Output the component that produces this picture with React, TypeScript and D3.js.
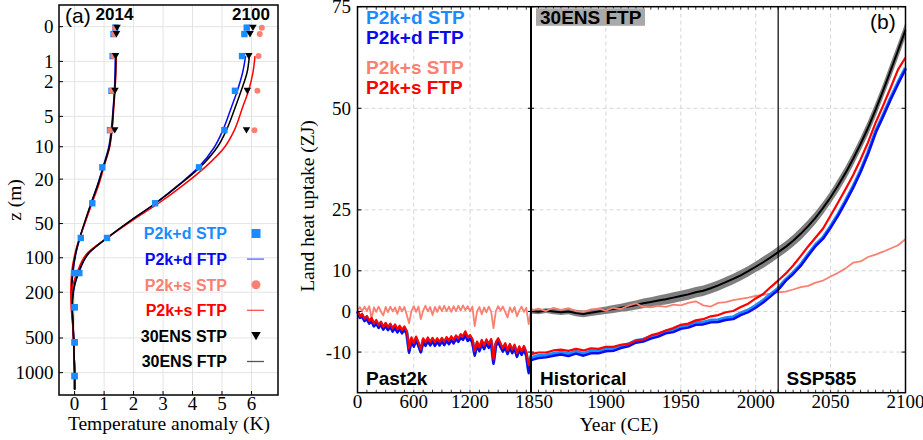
import React from "react";
import * as d3 from "d3";

const W = 923;
const H = 440;

// ---------- Panel (a): subsurface temperature anomaly profiles ----------
const stpDepths = [0.02, 0.16, 0.8, 2.6, 6.9, 15.6, 33, 67, 136, 270, 545, 1070];
const p2kdStp2014 = [1.38, 1.32, 1.29, 1.25, 1.2, 0.94, 0.6, 0.21, -0.02, 0, 0, 0];
const p2kdStp2100 = [5.84, 5.76, 5.68, 5.44, 5.08, 4.22, 2.73, 1.1, 0.16, 0, 0, 0];

const shallowDepths = [0.02, 0.16, 0.8, 2.6, 6.9];
const p2ksStp2014 = [1.37, 1.34, 1.31, 1.26, 1.21];
const p2ksStp2100 = [6.35, 6.28, 6.24, 6.2, 6.1];
const ensStp2014 = [1.44, 1.42, 1.39, 1.37, 1.36];
const ensStp2100 = [6.05, 5.95, 5.91, 5.86, 5.83];

const ftpDepths = [0.8, 1.5, 2.6, 4, 6.9, 10, 15.6, 22, 33, 47, 67, 90, 136, 200, 270, 400, 545, 800, 1070, 1400];
const p2kdFtp2014 = [1.38, 1.37, 1.35, 1.31, 1.24, 1.16, 0.96, 0.79, 0.56, 0.37, 0.18, 0.05, -0.06, -0.1, -0.09, -0.05, -0.03, -0.01, 0, 0];
const p2ksFtp2014 = [1.41, 1.4, 1.37, 1.33, 1.27, 1.19, 0.99, 0.83, 0.59, 0.38, 0.17, 0.02, -0.1, -0.13, -0.11, -0.06, -0.03, -0.01, 0, 0];
const ensFtp2014 = [1.4, 1.39, 1.36, 1.32, 1.26, 1.18, 0.97, 0.8, 0.56, 0.36, 0.17, 0.04, -0.07, -0.1, -0.09, -0.05, -0.03, -0.01, 0, 0];
const p2kdFtp2100 = [5.8, 5.7, 5.52, 5.32, 5.03, 4.75, 4.2, 3.58, 2.74, 1.9, 1.1, 0.5, 0.14, -0.04, -0.07, -0.05, -0.03, -0.01, 0, 0];
const p2ksFtp2100 = [6.12, 6.05, 5.9, 5.7, 5.42, 5.1, 4.42, 3.75, 2.85, 1.95, 1.1, 0.45, 0.08, -0.1, -0.11, -0.06, -0.03, -0.01, 0, 0];
const ensFtp2100 = [5.93, 5.85, 5.65, 5.45, 5.15, 4.85, 4.25, 3.6, 2.75, 1.9, 1.1, 0.5, 0.12, -0.05, -0.08, -0.05, -0.03, -0.01, 0, 0];

const tempTicks = [0, 1, 2, 3, 4, 5, 6];
const depthTicks = [0, 1, 2, 5, 10, 20, 50, 100, 200, 500, 1000];

// ---------- Panel (b): land heat uptake (ZJ) ----------
// Past2k: 0..1825 CE every 25 years
const pastStep = 25;
const p2ksStpPast = [0.2, 1.1, 0.0, 1.2, 0.1, 1.3, -1.8, 1.0, -0.1, 1.2, 0.0, -1.0, 1.1, -0.2, 1.2, 0.0, 1.0, -0.6, 1.2, 0.0, 1.1, -0.8, -2.9, 0.1, 1.3, -0.1, 1.2, -1.9, 0.2, 1.4, 0.0, 1.1, -0.9, 1.1, -0.1, 1.3, 0.1, 1.4, 0.0, 1.2, -0.1, 1.3, 0.1, 1.4, 0.2, 1.5, 0.3, 1.3, 0.0, 1.2, -3.6, 0.0, 1.1, -0.7, 1.0, -0.2, 1.2, 0.0, -4.1, 0.1, 1.3, 0.2, 1.2, -0.1, -1.5, 1.0, -0.2, 1.1, -1.2, 0.2, 1.2, -0.1, 0.9, -3.1];
const p2ksFtpPast = [0, -1.2, -0.6, -1.8, -1.1, -2.3, -1.6, -3.0, -2.1, -3.4, -2.5, -3.8, -2.8, -3.9, -3.0, -4.2, -3.2, -4.4, -3.5, -4.6, -3.7, -4.8, -9.0, -6.4, -7.8, -6.2, -7.6, -9.4, -6.6, -7.6, -6.4, -7.5, -6.5, -7.6, -6.6, -7.5, -6.5, -7.4, -6.3, -7.2, -6.1, -7.0, -5.9, -6.6, -5.6, -6.1, -4.9, -6.4, -5.8, -6.8, -9.8, -7.4, -8.9, -7.0, -8.4, -6.9, -8.1, -6.8, -11.8, -7.6, -6.6, -7.9, -9.0, -7.8, -9.6, -8.0, -9.4, -8.2, -10.3, -8.6, -9.8, -8.5, -10.0, -13.2];
const p2kdFtpPast = [0, -1.6, -1.3, -2.4, -1.9, -3.0, -2.4, -3.7, -2.9, -4.1, -3.2, -4.5, -3.6, -4.6, -3.8, -5.0, -4.0, -5.2, -4.3, -5.4, -4.5, -5.6, -10.2, -7.3, -8.7, -7.1, -8.5, -10.1, -7.5, -8.5, -7.3, -8.4, -7.4, -8.5, -7.5, -8.4, -7.4, -8.3, -7.2, -8.1, -7.0, -7.9, -6.8, -7.5, -6.5, -7.0, -5.8, -7.3, -6.7, -7.7, -10.9, -8.3, -9.8, -7.9, -9.3, -7.8, -9.0, -7.7, -12.9, -8.5, -7.5, -8.8, -9.9, -8.7, -10.5, -8.9, -10.3, -9.1, -11.2, -9.5, -10.7, -9.4, -10.9, -15.2];
const p2kdStpPast = [0, -1.4, -1.0, -2.1, -1.5, -2.7, -2.0, -3.4, -2.5, -3.8, -2.9, -4.2, -3.2, -4.3, -3.4, -4.6, -3.6, -4.8, -3.9, -5.0, -4.1, -5.2, -9.6, -6.9, -8.2, -6.7, -8.1, -9.8, -7.1, -8.1, -6.9, -8.0, -7.0, -8.1, -7.1, -8.0, -7.0, -7.9, -6.8, -7.7, -6.6, -7.5, -6.4, -7.1, -6.1, -6.6, -5.4, -6.9, -6.3, -7.3, -10.4, -7.9, -9.4, -7.5, -8.9, -7.4, -8.6, -7.3, -12.4, -8.1, -7.1, -8.4, -9.5, -8.3, -10.1, -8.5, -9.9, -8.7, -10.8, -9.1, -10.3, -9.0, -10.5, -14.6];

// Historical + SSP585: 1850..2100 CE every 5 years
const modernStart = 1850;
const modernStep = 5;
const p2ksStpModern = [0.2, 0.7, 0.1, 0.9, 0.4, 0.8, 0.1, -0.1, 0.5, 0.7, 0.2, 0.9, 0.6, 1.4, 2.0, 1.1, 1.0, 1.4, 1.1, 1.7, 1.5, 2.1, 2.5, 1.5, 1.2, 2.1, 2.3, 2.8, 3.1, 3.4, 3.8, 4.1, 4.4, 4.7, 4.9, 5.4, 6.0, 6.3, 7.1, 7.6, 8.6, 9.5, 10.6, 12.0, 12.3, 13.4, 14.0, 14.7, 15.5, 16.3, 17.8];
const p2ksFtpModern = [-10.5, -10.1, -10.1, -9.6, -9.4, -9.7, -9.2, -9.6, -9.1, -9.2, -8.7, -8.7, -8.2, -8.0, -7.2, -6.9, -5.9, -5.4, -4.7, -4.1, -3.3, -3.0, -2.2, -1.9, -1.2, -0.9, -0.2, 0.1, 1.1, 1.9, 3.2, 4.3, 6.0, 7.6, 9.3, 11.3, 13.6, 16.0, 18.2, 20.4, 23.6, 26.8, 30.1, 33.5, 37.4, 41.6, 46.4, 50.6, 55.0, 59.5, 62.5];
const p2kdFtpModern = [-12.0, -11.5, -11.3, -10.9, -10.6, -11.0, -10.4, -10.9, -10.3, -10.3, -9.8, -9.7, -9.0, -8.6, -7.7, -7.4, -6.7, -6.2, -5.4, -5.1, -4.3, -4.0, -3.3, -3.2, -2.7, -2.6, -2.1, -1.9, -0.9, -0.2, 0.9, 2.2, 3.7, 5.3, 7.5, 9.2, 11.2, 13.7, 16.1, 17.9, 20.6, 23.6, 26.9, 30.4, 34.3, 38.8, 43.9, 47.9, 52.1, 56.0, 59.6];
const p2kdStpModern = [-11.4, -10.9, -10.8, -10.4, -10.1, -10.5, -9.9, -10.4, -9.8, -9.8, -9.3, -9.2, -8.5, -8.1, -7.2, -6.9, -6.2, -5.7, -4.9, -4.6, -3.8, -3.5, -2.8, -2.7, -2.2, -2.1, -1.6, -1.4, -0.4, 0.3, 1.4, 2.7, 4.2, 5.7, 7.8, 9.5, 11.5, 14.0, 16.4, 18.2, 20.9, 23.9, 27.2, 30.7, 34.6, 39.1, 44.2, 48.2, 52.4, 56.3, 59.9];
const ensFtpModern = [0.1, -0.1, 0.2, 0.0, -0.2, 0.0, -0.4, -0.6, -0.3, 0.0, 0.3, 0.6, 0.9, 1.2, 1.6, 2.0, 2.3, 2.7, 3.0, 3.4, 3.8, 4.2, 4.7, 5.1, 5.7, 6.4, 7.2, 8.0, 8.9, 9.9, 11.0, 12.1, 13.3, 14.6, 15.9, 17.4, 19.1, 21.0, 23.1, 25.5, 28.1, 31.0, 34.1, 37.5, 41.2, 45.2, 49.6, 54.3, 59.2, 64.2, 69.3];
const ensSpreadModern = [0.6, 0.6, 0.6, 0.7, 0.7, 0.7, 0.8, 0.8, 0.8, 0.9, 0.9, 1.0, 1.0, 1.1, 1.1, 1.2, 1.2, 1.2, 1.3, 1.3, 1.3, 1.3, 1.3, 1.3, 1.3, 1.3, 1.3, 1.3, 1.3, 1.3, 1.3, 1.4, 1.4, 1.4, 1.4, 1.4, 1.5, 1.5, 1.5, 1.5, 1.5, 1.6, 1.6, 1.6, 1.6, 1.7, 1.7, 1.7, 1.8, 1.8, 1.8];

const yearTicks = [0, 600, 1200, 1850, 1900, 1950, 2000, 2050, 2100];
const heatTicks = [-10, 0, 10, 25, 50, 75];
const periodBreaks = [1850, 2015];

const C = {
  p2kdStp: "#1a8cff",
  p2kdFtp: "#0a0af0",
  p2ksStp: "#fa8072",
  p2ksFtp: "#ff0000",
  ens: "#000000",
  band: "#7e7e7e",
};

const SANS = "'Liberation Sans', Arial, Helvetica, sans-serif";
const SERIF = "'Liberation Serif', 'Times New Roman', Times, serif";

type Pt = { x: number; v: number };
function pastPts(vals: number[]): Pt[] {
  return vals.map((v, i) => ({ x: i * pastStep, v }));
}
function modernPts(vals: number[]): Pt[] {
  return vals.map((v, i) => ({ x: modernStart + i * modernStep, v }));
}

export default function App() {
  // ---- panel (a) scales ----
  const aL = 59, aR = 278, aT = 5, aB = 395;
  const xA = d3.scaleLinear().domain([-0.53, 6.9]).range([aL, aR]);
  const zLog = d3.scaleLog().domain([0.649, 1564]).range([aT, aB]);
  const yA = (z: number) => zLog(z + 1);

  const profile = d3
    .line<[number, number]>()
    .x((d) => xA(d[0]))
    .y((d) => yA(d[1]))
    .curve(d3.curveMonotoneY);
  const prof = (vals: number[]) => profile(vals.map((v, i) => [v, ftpDepths[i]]) as [number, number][]) || "";

  // ---- panel (b) scales ----
  const bL = 357.5, bR = 905.5, bT = 6.7, bB = 392.7;
  const xB = d3.scaleLinear().domain([0, 1850, 2100]).range([bL, 531, bR]);
  const yB = d3.scaleLinear().domain([-20, 75]).range([bB, bT]);

  const series = d3
    .line<Pt>()
    .x((d) => xB(d.x))
    .y((d) => yB(d.v));
  const full = (past: number[], modern: number[]) => series([...pastPts(past), ...modernPts(modern)]) || "";
  const bandPts = ensFtpModern.map((v, i) => ({ x: modernStart + i * modernStep, lo: v - ensSpreadModern[i], hi: v + ensSpreadModern[i] }));
  const band =
    d3
      .area<{ x: number; lo: number; hi: number }>()
      .x((d) => xB(d.x))
      .y0((d) => yB(d.lo))
      .y1((d) => yB(d.hi))(bandPts) || "";

  const minorTicksPast = d3.range(100, 1850, 100);
  const minorTicksModern = d3.range(1855, 2100, 5);

  const sq = 6.4;
  const tri = (cx: number, cy: number, s = 7.5) =>
    `M${cx - s / 2},${cy - s * 0.4}L${cx + s / 2},${cy - s * 0.4}L${cx},${cy + s * 0.45}Z`;

  const legendA = [
    { label: "P2k+d STP", color: C.p2kdStp, kind: "square", sym: C.p2kdStp },
    { label: "P2k+d FTP", color: C.p2kdFtp, kind: "line", sym: "#6060ff" },
    { label: "P2k+s STP", color: C.p2ksStp, kind: "circle", sym: C.p2ksStp },
    { label: "P2k+s FTP", color: C.p2ksFtp, kind: "line", sym: "#ff5050" },
    { label: "30ENS STP", color: "#000", kind: "tri", sym: "#000" },
    { label: "30ENS FTP", color: "#000", kind: "line", sym: "#555" },
  ];

  const legendB = [
    { label: "P2k+d STP", color: C.p2kdStp, y: 23.5 },
    { label: "P2k+d FTP", color: C.p2kdFtp, y: 43.5 },
    { label: "P2k+s STP", color: C.p2ksStp, y: 74 },
    { label: "P2k+s FTP", color: C.p2ksFtp, y: 94 },
  ];

  return (
    <svg
      width={W}
      height={H}
      viewBox={`0 0 ${W} ${H}`}
      style={{ position: "absolute", left: 0, top: 0, background: "#fff" }}
    >
      {/* ================= Panel (a) ================= */}
      <g>
        {tempTicks.map((t) => (
          <line key={`ga${t}`} x1={xA(t)} x2={xA(t)} y1={aT} y2={aB} stroke="#e4e4e4" strokeWidth={1} />
        ))}
        {depthTicks.map((z) => (
          <line key={`gz${z}`} x1={aL} x2={aR} y1={yA(z)} y2={yA(z)} stroke="#e4e4e4" strokeWidth={1} />
        ))}

        {/* profiles */}
        <path d={prof(p2kdFtp2014)} fill="none" stroke={C.p2kdFtp} strokeWidth={1.5} />
        <path d={prof(p2ksFtp2014)} fill="none" stroke={C.p2ksFtp} strokeWidth={1.5} />
        <path d={prof(ensFtp2014)} fill="none" stroke={C.ens} strokeWidth={1.5} />
        <path d={prof(p2kdFtp2100)} fill="none" stroke={C.p2kdFtp} strokeWidth={1.5} />
        <path d={prof(p2ksFtp2100)} fill="none" stroke={C.p2ksFtp} strokeWidth={1.5} />
        <path d={prof(ensFtp2100)} fill="none" stroke={C.ens} strokeWidth={1.5} />

        {/* P2k+d STP squares */}
        {[p2kdStp2014, p2kdStp2100].map((arr, k) =>
          arr.map((v, i) => (
            <rect
              key={`sq${k}-${i}`}
              x={xA(v) - sq / 2}
              y={yA(stpDepths[i]) - sq / 2}
              width={sq}
              height={sq}
              fill={C.p2kdStp}
            />
          ))
        )}
        {/* P2k+s STP circles */}
        {[p2ksStp2014, p2ksStp2100].map((arr, k) =>
          arr.map((v, i) => (
            <circle key={`ci${k}-${i}`} cx={xA(v)} cy={yA(shallowDepths[i])} r={3} fill={C.p2ksStp} />
          ))
        )}
        {/* 30ENS STP triangles */}
        {[ensStp2014, ensStp2100].map((arr, k) =>
          arr.map((v, i) => <path key={`tr${k}-${i}`} d={tri(xA(v), yA(shallowDepths[i]))} fill="#000" />)
        )}

        {/* axis ticks */}
        {depthTicks.map((z) => (
          <line key={`tz${z}`} x1={aL} x2={aL + 4} y1={yA(z)} y2={yA(z)} stroke="#000" strokeWidth={1} />
        ))}
        {tempTicks.map((t) => (
          <line key={`tt${t}`} x1={xA(t)} x2={xA(t)} y1={aB} y2={aB - 4} stroke="#000" strokeWidth={1} />
        ))}

        <rect x={aL} y={aT} width={aR - aL} height={aB - aT} fill="none" stroke="#000" strokeWidth={1.5} />

        {/* tick labels */}
        {depthTicks.map((z) => (
          <text key={`lz${z}`} x={53.5} y={yA(z) + 6.5} textAnchor="end" fontFamily={SERIF} fontSize={19}>
            {z}
          </text>
        ))}
        {tempTicks.map((t) => (
          <text key={`lt${t}`} x={xA(t)} y={410} textAnchor="middle" fontFamily={SERIF} fontSize={19}>
            {t}
          </text>
        ))}
        <text x={169} y={430} textAnchor="middle" fontFamily={SERIF} fontSize={19.5}>
          Temperature anomaly (K)
        </text>
        <text transform="translate(21,200) rotate(-90)" textAnchor="middle" fontFamily={SERIF} fontSize={19.5}>
          z (m)
        </text>

        <text x={65} y={23} fontFamily={SANS} fontSize={21}>
          (a)
        </text>
        <text x={114.5} y={20} textAnchor="middle" fontFamily={SANS} fontWeight="bold" fontSize={17}>
          2014
        </text>
        <text x={251} y={20} textAnchor="middle" fontFamily={SANS} fontWeight="bold" fontSize={17}>
          2100
        </text>

        {/* legend */}
        {legendA.map((e, i) => {
          const y = 233.5 + i * 25.6;
          return (
            <g key={`la${i}`}>
              <text x={227} y={y + 5.8} textAnchor="end" fontFamily={SANS} fontWeight="bold" fontSize={16} fill={e.color}>
                {e.label}
              </text>
              {e.kind === "square" && <rect x={256 - 4.5} y={y - 4.5} width={9} height={9} fill={e.sym} />}
              {e.kind === "circle" && <circle cx={256} cy={y} r={4.5} fill={e.sym} />}
              {e.kind === "tri" && <path d={tri(256, y, 9.5)} fill={e.sym} />}
              {e.kind === "line" && <line x1={247} x2={264} y1={y} y2={y} stroke={e.sym} strokeWidth={1.3} />}
            </g>
          );
        })}
      </g>

      {/* ================= Panel (b) ================= */}
      <g>
        {[600, 1200, 1900, 1950, 2000, 2050].map((t) => (
          <line key={`gb${t}`} x1={xB(t)} x2={xB(t)} y1={bT} y2={bB} stroke="#d6d6d6" strokeWidth={1} strokeDasharray="4,3" />
        ))}
        {[-10, 0, 10, 25, 50].map((v) => (
          <line key={`gh${v}`} x1={bL} x2={bR} y1={yB(v)} y2={yB(v)} stroke="#d6d6d6" strokeWidth={1} strokeDasharray="4,3" />
        ))}

        {/* 30ENS FTP range and mean */}
        <path d={band} fill={C.band} stroke="none" />
        <path d={series(modernPts(ensFtpModern)) || ""} fill="none" stroke={C.ens} strokeWidth={2} />

        <path d={full(p2ksStpPast, p2ksStpModern)} fill="none" stroke={C.p2ksStp} strokeWidth={1.8} strokeLinejoin="round" />
        <path d={full(p2kdStpPast, p2kdStpModern)} fill="none" stroke={C.p2kdStp} strokeWidth={3.6} strokeLinejoin="round" />
        <path d={full(p2kdFtpPast, p2kdFtpModern)} fill="none" stroke={C.p2kdFtp} strokeWidth={2.4} strokeLinejoin="round" />
        <path d={full(p2ksFtpPast, p2ksFtpModern)} fill="none" stroke={C.p2ksFtp} strokeWidth={2.2} strokeLinejoin="round" />

        {/* period separators */}
        <line x1={xB(periodBreaks[0])} x2={xB(periodBreaks[0])} y1={bT} y2={bB} stroke="#000" strokeWidth={2} />
        <line x1={xB(periodBreaks[1])} x2={xB(periodBreaks[1])} y1={bT} y2={bB} stroke="#000" strokeWidth={1.2} />

        {/* ticks */}
        {[...minorTicksPast, ...minorTicksModern].map((t) => (
          <g key={`mt${t}`}>
            <line x1={xB(t)} x2={xB(t)} y1={bB} y2={bB - 3} stroke="#000" strokeWidth={0.8} />
            <line x1={xB(t)} x2={xB(t)} y1={bT} y2={bT + 3} stroke="#000" strokeWidth={0.8} />
          </g>
        ))}
        {heatTicks.map((v) => (
          <g key={`ht${v}`}>
            <line x1={bL} x2={bL + 4} y1={yB(v)} y2={yB(v)} stroke="#000" strokeWidth={1} />
            <line x1={bR} x2={bR - 4} y1={yB(v)} y2={yB(v)} stroke="#000" strokeWidth={1} />
            <line x1={xB(1850) - 3} x2={xB(1850) + 3} y1={yB(v)} y2={yB(v)} stroke="#000" strokeWidth={1} />
          </g>
        ))}

        <rect x={bL} y={bT} width={bR - bL} height={bB - bT} fill="none" stroke="#000" strokeWidth={1.5} />

        {heatTicks.map((v) => (
          <text key={`lh${v}`} x={351} y={yB(v) + 6.5} textAnchor="end" fontFamily={SERIF} fontSize={19}>
            {v}
          </text>
        ))}
        {yearTicks.map((t) => (
          <text
            key={`ly${t}`}
            x={t === 1850 ? xB(t) + 3 : xB(t)}
            y={408}
            textAnchor="middle"
            fontFamily={SERIF}
            fontSize={19}
          >
            {t}
          </text>
        ))}
        <text x={619} y={431} textAnchor="middle" fontFamily={SERIF} fontSize={19.5}>
          Year (CE)
        </text>
        <text transform="translate(314,206) rotate(-90)" textAnchor="middle" fontFamily={SERIF} fontSize={19.5}>
          Land heat uptake (ZJ)
        </text>

        {legendB.map((e) => (
          <text key={e.label} x={366} y={e.y} fontFamily={SANS} fontWeight="bold" fontSize={19} fill={e.color}>
            {e.label}
          </text>
        ))}
        <rect x={536} y={8.3} width={109} height={17.5} fill="#a9a9a9" />
        <text x={540} y={24} fontFamily={SANS} fontWeight="bold" fontSize={19} fill="#000">
          30ENS FTP
        </text>
        <text x={870} y={29} fontFamily={SANS} fontSize={21}>
          (b)
        </text>

        <text x={366} y={385} fontFamily={SANS} fontWeight="bold" fontSize={19}>
          Past2k
        </text>
        <text x={540} y={385} fontFamily={SANS} fontWeight="bold" fontSize={19}>
          Historical
        </text>
        <text x={786.5} y={385} fontFamily={SANS} fontWeight="bold" fontSize={19}>
          SSP585
        </text>
      </g>
    </svg>
  );
}
